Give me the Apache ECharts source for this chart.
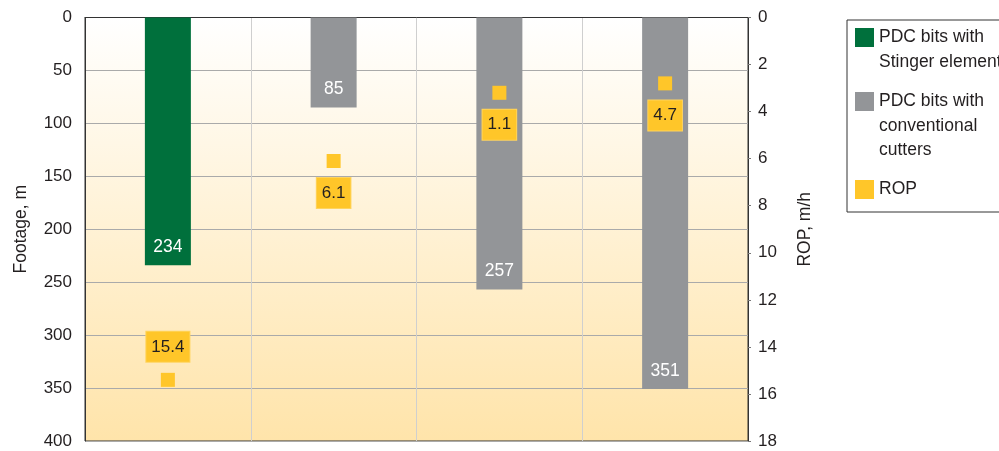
<!DOCTYPE html>
<html>
<head>
<meta charset="utf-8">
<script src="https://cdn.jsdelivr.net/npm/echarts@6/dist/echarts.min.js"></script>
<style>html,body{margin:0;padding:0;background:#fff;}#c{width:999px;height:451px;}</style>
</head>
<body>
<div id="c"></div>
<script>
const categories = ['Run 1', 'Run 2', 'Run 3', 'Run 4'];
const stingerFootage = [234, null, null, null];
const conventionalFootage = [null, 85, 257, 351];
const ropMarker = [15.4, 6.1, 3.2, 2.8];
const ropLabels = ['15.4', '6.1', '1.1', '4.7'];
const seriesNames = ['PDC bits with Stinger elements', 'PDC bits with conventional cutters', 'ROP'];
const legendTexts = ['PDC bits with\nStinger elements', 'PDC bits with\nconventional\ncutters', 'ROP'];

const FONT = "'Liberation Sans', Arial, sans-serif";
const chart = echarts.init(document.getElementById('c'));
const LH = 24.5;
const legendIconTops = [28, 92, 180];
const legends = seriesNames.map((nm, i) => {
  const n = legendTexts[i].split('\n').length;
  const padded = '\n'.repeat(n - 1) + legendTexts[i];
  return {
    orient: 'vertical', left: 855, top: legendIconTops[i] + 9.5 - (2 * n - 1) * LH / 2,
    padding: 0, itemWidth: 19, itemHeight: 19, itemGap: 0, icon: 'rect', selectedMode: false,
    data: [nm],
    formatter: () => padded,
    textStyle: { fontFamily: FONT, fontSize: 17.5, lineHeight: LH, color: '#231f20',
      backgroundColor: 'rgba(0,0,0,0)' }
  };
});

const option = {
  animation: false,
  backgroundColor: '#fff',
  grid: { left: 85, right: 251, top: 17.5, bottom: 10, show: true, borderColor: '#333', borderWidth: 1,
    backgroundColor: new echarts.graphic.LinearGradient(0, 0, 0, 1, [
      { offset: 0, color: '#FFFFFF' }, { offset: 1, color: '#FFE4AA' }]) },
  legend: legends,
  graphic: [{ type: 'rect', left: 844.5, top: 17.5, shape: { width: 200, height: 192 },
    style: { fill: 'none', stroke: '#333', lineWidth: 1 }, z: -1 }],
  xAxis: {
    type: 'category', data: categories, position: 'bottom',
    axisLine: { show: true, lineStyle: { color: '#333' } },
    axisTick: { show: false }, axisLabel: { show: false },
    splitLine: { show: true, lineStyle: { color: '#CFCFCF', width: 1 } }
  },
  yAxis: [{
    type: 'value', min: 0, max: 400, interval: 50, inverse: true,
    name: 'Footage, m', nameLocation: 'middle', nameGap: 55, nameRotate: 90,
    nameTextStyle: { fontFamily: FONT, fontSize: 17.5, color: '#231f20' },
    axisLine: { show: true, lineStyle: { color: '#333' } }, axisTick: { show: false },
    axisLabel: { fontFamily: FONT, fontSize: 17, color: '#231f20', margin: 13 },
    splitLine: { show: true, lineStyle: { color: '#AAAAAA', width: 1 } }
  }, {
    type: 'value', min: 0, max: 18, interval: 2, inverse: true, position: 'right',
    name: 'ROP, m/h', nameLocation: 'middle', nameGap: 48, nameRotate: 90,
    nameTextStyle: { fontFamily: FONT, fontSize: 17.5, color: '#231f20' },
    axisLine: { show: true, lineStyle: { color: '#333' } },
    axisTick: { show: true, length: 3, lineStyle: { color: '#777' } },
    axisLabel: { fontFamily: FONT, fontSize: 17, color: '#231f20', margin: 10 },
    splitLine: { show: false }
  }],
  series: [{
    name: seriesNames[0], type: 'bar', stack: 'bits', barWidth: 46, data: stingerFootage,
    itemStyle: { color: '#00703C' },
    label: { show: true, position: 'insideBottom', distance: 9, color: '#fff', fontFamily: FONT, fontSize: 17.5 }
  }, {
    name: seriesNames[1], type: 'bar', stack: 'bits', barWidth: 46, data: conventionalFootage,
    itemStyle: { color: '#939598' },
    label: { show: true, position: 'insideBottom', distance: 9, color: '#fff', fontFamily: FONT, fontSize: 17.5 }
  }, {
    name: seriesNames[2], type: 'scatter', yAxisIndex: 1, symbol: 'rect', symbolSize: 14,
    itemStyle: { color: '#FFC629', opacity: 1 }, z: 5,
    data: ropMarker.map((v, i) => ({
      value: [categories[i], v],
      label: { show: true, formatter: ropLabels[i], position: i === 0 ? 'top' : 'bottom', distance: i === 0 ? 11 : 10 }
    })),
    label: { fontFamily: FONT, fontSize: 17, lineHeight: 20, color: '#231f20', backgroundColor: '#FFC629',
      borderColor: '#FFD45E', borderWidth: 1, padding: [5, 5, 5, 5], opacity: 1 }
  }]
};
chart.setOption(option);
</script>
</body>
</html>
